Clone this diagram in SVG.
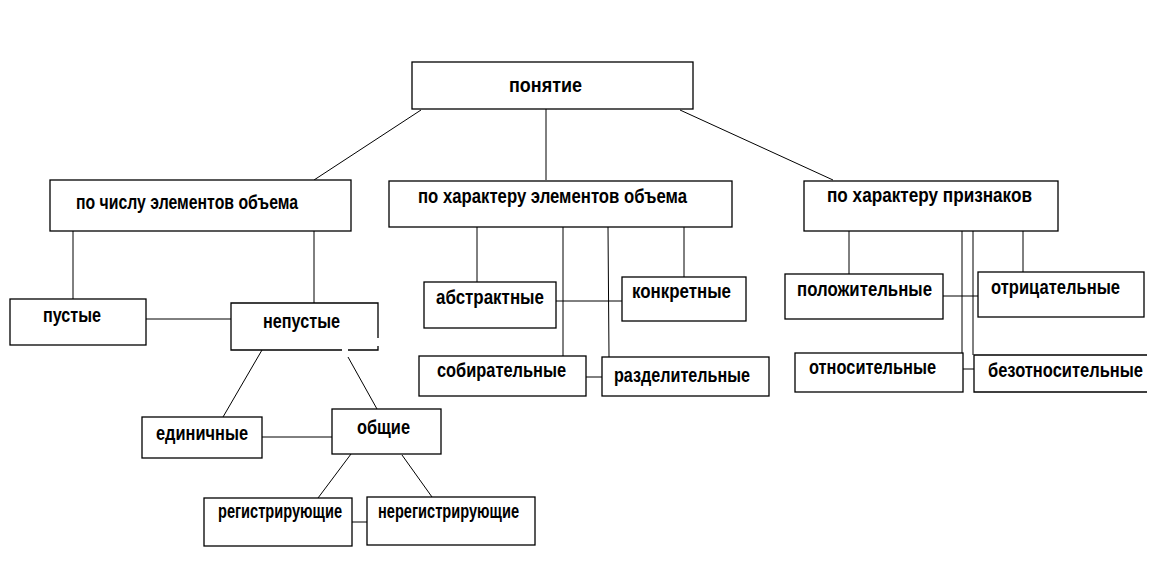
<svg xmlns="http://www.w3.org/2000/svg" width="1175" height="565" viewBox="0 0 1175 565">
<style>
.box{fill:#fff;stroke:#000;stroke-width:1.3}
.open{fill:none;stroke:#000;stroke-width:1.3}
.conn path{fill:none;stroke:#000;stroke-width:1}
text{font-family:"Liberation Sans",Arial,sans-serif;font-weight:bold;font-size:20px;fill:#000}
</style>
<rect width="1175" height="565" fill="#fff"/>
<g id="connectors" class="conn">
<path d="M421,110 L314,180"/>
<path d="M546,109 V180"/>
<path d="M680,110 L833,180"/>
<path d="M73,231 V299"/>
<path d="M314,231 V303"/>
<path d="M146,319 H231"/>
<path d="M262,350 L223,417"/>
<path d="M348,357 L377,409"/>
<path d="M262,437 H332"/>
<path d="M351,454 L318,498"/>
<path d="M402,455 L432,497"/>
<path d="M352,522 H367"/>
<path d="M477,227 V282"/>
<path d="M563,227 V356"/>
<path d="M608,227 L609,357"/>
<path d="M684,227 V277"/>
<path d="M556,301 H622"/>
<path d="M586,377 H602"/>
<path d="M849,231 V274"/>
<path d="M962,231 V353"/>
<path d="M973,231 V355"/>
<path d="M1023,231 V272"/>
<path d="M943,296 H978"/>
<path d="M963,369 H974"/>
</g>
<g id="ponyatie"><rect class="box" x="412" y="62" width="281" height="47"/><text x="509" y="92" textLength="73" lengthAdjust="spacingAndGlyphs">понятие</text></g>
<g id="po-chislu"><rect class="box" x="50" y="180" width="301" height="51"/><text x="76" y="209" textLength="222" lengthAdjust="spacingAndGlyphs">по  числу элементов объема</text></g>
<g id="po-harakteru-elementov"><rect class="box" x="389" y="181" width="343" height="46"/><text x="418" y="203" textLength="269" lengthAdjust="spacingAndGlyphs">по характеру элементов объема</text></g>
<g id="po-harakteru-priznakov"><rect class="box" x="804" y="181" width="254" height="50"/><text x="827" y="202" textLength="205" lengthAdjust="spacingAndGlyphs">по характеру признаков</text></g>
<g id="pustye"><rect class="box" x="10" y="299" width="136" height="46"/><text x="43" y="322" textLength="58" lengthAdjust="spacingAndGlyphs">пустые</text></g>
<g id="nepustye"><path class="open" d="M378,338 V303 H231 V350 H342 M348,350 H378 V346"/><text x="263" y="328" textLength="77" lengthAdjust="spacingAndGlyphs">непустые</text></g>
<g id="edinichnye"><rect class="box" x="142" y="417" width="120" height="41"/><text x="156" y="440" textLength="92" lengthAdjust="spacingAndGlyphs">единичные</text></g>
<g id="obshchie"><rect class="box" x="332" y="409" width="109" height="45"/><text x="357" y="434" textLength="53" lengthAdjust="spacingAndGlyphs">общие</text></g>
<g id="registriruyushchie"><rect class="box" x="204" y="498" width="148" height="48"/><text x="218" y="518" textLength="124" lengthAdjust="spacingAndGlyphs">регистрирующие</text></g>
<g id="neregistriruyushchie"><rect class="box" x="367" y="497" width="168" height="48"/><text x="378" y="518" textLength="141" lengthAdjust="spacingAndGlyphs">нерегистрирующие</text></g>
<g id="abstraktnye"><rect class="box" x="424" y="282" width="132" height="46"/><text x="436" y="304" textLength="108" lengthAdjust="spacingAndGlyphs">абстрактные</text></g>
<g id="konkretnye"><rect class="box" x="622" y="277" width="124" height="44"/><text x="632" y="298" textLength="99" lengthAdjust="spacingAndGlyphs">конкретные</text></g>
<g id="sobiratelnye"><rect class="box" x="419" y="356" width="167" height="40"/><text x="437" y="377" textLength="129" lengthAdjust="spacingAndGlyphs">собирательные</text></g>
<g id="razdelitelnye"><rect class="box" x="602" y="357" width="167" height="39"/><text x="614" y="382" textLength="136" lengthAdjust="spacingAndGlyphs">разделительные</text></g>
<g id="polozhitelnye"><rect class="box" x="785" y="274" width="158" height="45"/><text x="797" y="296" textLength="135" lengthAdjust="spacingAndGlyphs">положительные</text></g>
<g id="otritsatelnye"><rect class="box" x="978" y="272" width="166" height="45"/><text x="991" y="294" textLength="129" lengthAdjust="spacingAndGlyphs">отрицательные</text></g>
<g id="otnositelnye"><rect class="box" x="795" y="353" width="168" height="39"/><text x="809" y="374" textLength="127" lengthAdjust="spacingAndGlyphs">относительные</text></g>
<g id="bezotnositelnye"><path class="open" d="M1147,355 H974 V392 H1147"/><text x="988" y="377" textLength="155" lengthAdjust="spacingAndGlyphs">безотносительные</text></g>
</svg>
